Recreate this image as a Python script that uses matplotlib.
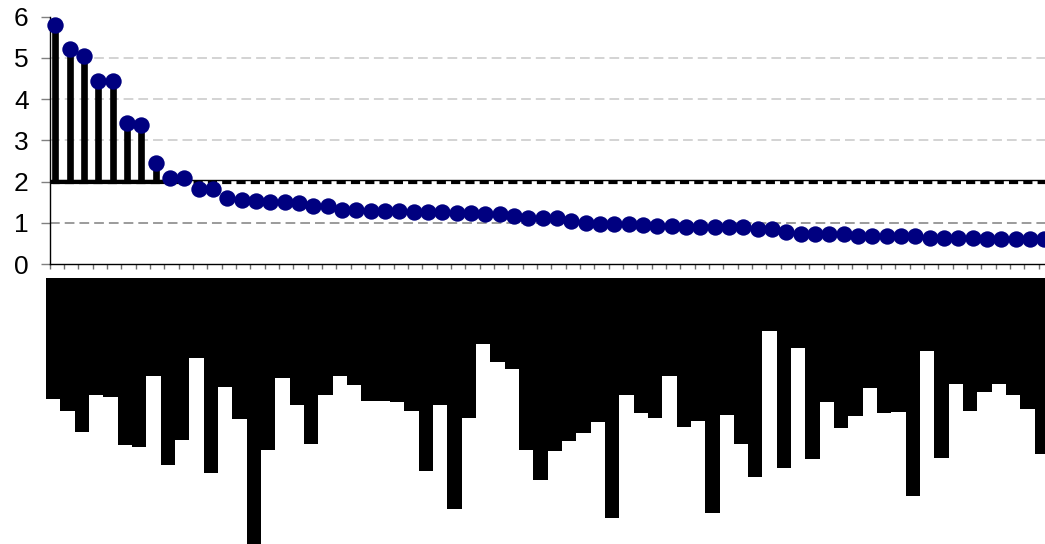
import numpy as np
import matplotlib
matplotlib.use("Agg")
import matplotlib.pyplot as plt

plt.rcParams['font.family'] = ['Liberation Sans', 'DejaVu Sans']
plt.rcParams['lines.scale_dashes'] = False

# Sorted scores (upper panel), one per item
scores = [5.80, 5.21, 5.05, 4.44, 4.44, 3.42, 3.38, 2.45, 2.09, 2.09,
          1.83, 1.81, 1.60, 1.56, 1.52, 1.51, 1.51, 1.49, 1.41, 1.40,
          1.32, 1.31, 1.28, 1.28, 1.28, 1.27, 1.27, 1.25, 1.24, 1.24,
          1.21, 1.21, 1.16, 1.12, 1.12, 1.12, 1.05, 0.99, 0.97, 0.97,
          0.97, 0.94, 0.93, 0.93, 0.90, 0.89, 0.89, 0.89, 0.89, 0.85,
          0.85, 0.77, 0.73, 0.73, 0.73, 0.73, 0.69, 0.69, 0.69, 0.69,
          0.69, 0.64, 0.64, 0.64, 0.64, 0.60, 0.60, 0.60, 0.60, 0.60]

# Secondary measure per item (lower panel, bars hang downward)
bar_depth = [121, 133, 154, 117, 119, 167, 169, 98, 187, 162,
             80, 195, 109, 141, 270, 172, 100, 127, 166, 117,
             98, 107, 123, 123, 124, 133, 193, 127, 231, 140,
             66, 84, 91, 172, 202, 173, 163, 155, 144, 240,
             117, 135, 140, 98, 149, 143, 235, 137, 166, 199,
             53, 190, 70, 181, 124, 150, 138, 110, 135, 134,
             218, 73, 180, 106, 133, 114, 106, 117, 131, 176]

threshold = 2
y_ticks = [0, 1, 2, 3, 4, 5, 6]

W, H = 1045, 544
fig = plt.figure(figsize=(W / 100, H / 100), dpi=100)

# ---- upper panel: lollipop of scores above the threshold ----
ax = fig.add_axes([49.5 / W, (H - 264) / H, (1053 - 49.5) / W, (264 - 16.7) / H])
n = len(scores)
x = np.arange(n)
vals = np.array(scores)
ax.set_xlim(-0.4, n - 0.4)
ax.set_ylim(0, 6)

for v in y_ticks:
    if v in (0, 6, threshold):
        continue
    col = '#808080' if v == 1 else '#c8c8c8'
    ax.axhline(v, color=col, lw=1.1, dashes=(7, 3.6), zorder=0)

# threshold line: thin solid edge with a heavy dashed band just below
ax.axhline(threshold + 0.045, color='black', lw=1.0, zorder=1)
ax.axhline(threshold - 0.02, color='black', lw=2.3, dashes=(6.6, 3.7), zorder=1)

above = vals > threshold
ax.vlines(x[above], threshold, vals[above], color='black', lw=4.8, zorder=2)
ax.plot([x[above][0], x[above][-1]], [threshold, threshold], color='black',
        lw=3.0, solid_capstyle='projecting', zorder=2)

ax.plot(x, vals, 'o', ms=11.8, color='#000080', mec='none', zorder=4,
        clip_on=False)

for s in ('top', 'right'):
    ax.spines[s].set_visible(False)
for s in ('left', 'bottom'):
    ax.spines[s].set_color('black')
    ax.spines[s].set_linewidth(1.0)

ax.set_yticks(y_ticks)
ax.set_yticklabels([str(v) for v in y_ticks])
ax.tick_params(axis='y', length=6.5, width=1.0, color='#808080', pad=8.5,
               labelsize=19)
ax.set_xticks(np.arange(n + 1) - 0.4)
ax.set_xticklabels([])
ax.tick_params(axis='x', length=3.8, width=1.0, color='#707070')

# ---- lower panel: hanging bars ----
bx = fig.add_axes([46 / W, 0, (n * 14.33) / W, (H - 278.3) / H])
bx.bar(x, bar_depth, width=1.0, color='black', linewidth=0)
bx.set_xlim(-0.5, n - 0.5)
bx.set_ylim(265.7, 0)
bx.axis('off')

fig.savefig('out.png', dpi=100)
